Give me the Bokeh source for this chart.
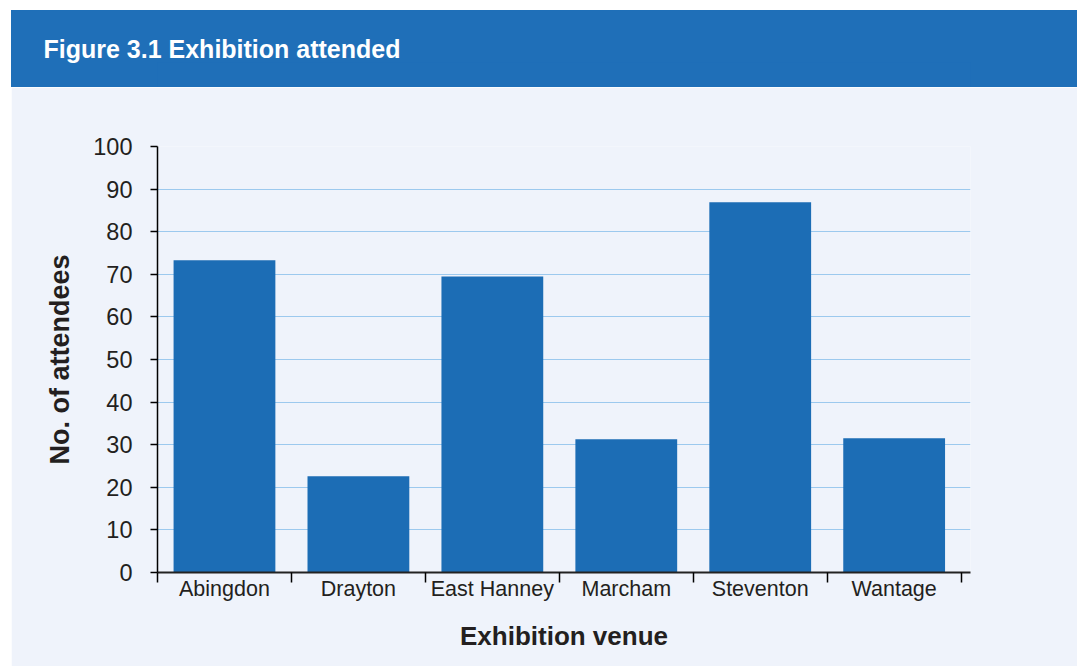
import numpy as np
from bokeh.plotting import figure
from bokeh.layouts import column
from bokeh.models import Range1d, FixedTicker, ColumnDataSource
from bokeh.embed import file_html
from bokeh.resources import INLINE

# Attendance per exhibition venue
venues = ["Abingdon", "Drayton", "East Hanney", "Marcham", "Steventon", "Wantage"]
attendees = [73.3, 22.6, 69.5, 31.3, 86.9, 31.5]
y_ticks = list(range(0, 101, 10))

title_text = "Figure 3.1 Exhibition attended"
x_title = "Exhibition venue"
y_title = "No. of attendees"

HEADER_BLUE = "#1f6fb8"
PANEL_BG = "#eff3fb"
BAR_BLUE = "#1c6db5"
GRID_BLUE = "#9cc9ee"
INK = "#231f20"
FONT = "Liberation Sans"

W = 1066
LEFT = 146      # room for the y axis
RIGHT = 107
HEADER_H = 77

# Header band carrying the figure caption as its title
header = figure(width=W, height=HEADER_H, x_range=Range1d(0, 1), y_range=Range1d(0, 1),
                title=title_text, title_location="above",
                toolbar_location=None, output_backend="svg", min_border=0,
                min_border_left=LEFT, min_border_right=RIGHT, min_border_top=52,
                background_fill_color=HEADER_BLUE, border_fill_color=HEADER_BLUE,
                outline_line_color=None, margin=0,
                styles={"background-color": HEADER_BLUE})
header.axis.visible = False
header.grid.visible = False
header.title.align = "left"
header.title.offset = 32 - LEFT
header.title.standoff = 0
header.title.text_color = "white"
header.title.text_font = FONT
header.title.text_font_size = "25px"
header.title.text_font_style = "bold"

# Bar chart panel
centers = np.arange(len(venues)) + 0.5
src = ColumnDataSource(dict(x=centers, top=attendees, venue=venues))

p = figure(width=W, height=579, x_range=Range1d(0, 6.07), y_range=Range1d(0, 100),
           toolbar_location=None, output_backend="svg",
           background_fill_color=PANEL_BG, border_fill_color=PANEL_BG,
           outline_line_color=None, margin=0,
           min_border_left=LEFT, min_border_right=RIGHT, min_border_top=59, min_border_bottom=94)

p.vbar(x="x", top="top", width=0.76, bottom=0, source=src,
       fill_color=BAR_BLUE, line_color=None)

# y axis
p.yaxis.ticker = FixedTicker(ticks=y_ticks)
p.yaxis.axis_label = y_title
p.yaxis.axis_label_text_font = FONT
p.yaxis.axis_label_text_font_size = "27px"
p.yaxis.axis_label_text_font_style = "bold"
p.yaxis.axis_label_text_color = INK
p.yaxis.axis_label_standoff = 15
p.yaxis.major_label_text_font = FONT
p.yaxis.major_label_text_font_size = "23.5px"
p.yaxis.major_label_text_color = INK
p.yaxis.major_label_standoff = 18
p.yaxis.major_tick_out = 7
p.yaxis.major_tick_in = 0
p.yaxis.minor_tick_out = 0
p.yaxis.minor_tick_in = 0
p.yaxis.axis_line_color = "black"
p.yaxis.axis_line_width = 1.5
p.yaxis.major_tick_line_color = "black"
p.yaxis.major_tick_line_width = 1.5

# x axis: labels at bar centres, ticks at the category boundaries
p.xaxis.ticker = FixedTicker(ticks=list(centers),
                             minor_ticks=list(range(len(venues) + 1)))
p.xaxis.major_label_overrides = {float(c): v for c, v in zip(centers, venues)}
p.xaxis.axis_label = x_title
p.xaxis.axis_label_text_font = FONT
p.xaxis.axis_label_text_font_size = "26px"
p.xaxis.axis_label_text_font_style = "bold"
p.xaxis.axis_label_text_color = INK
p.xaxis.axis_label_standoff = 17
p.xaxis.major_label_text_font = FONT
p.xaxis.major_label_text_font_size = "21.5px"
p.xaxis.major_label_text_color = INK
p.xaxis.major_label_standoff = -6
p.xaxis.major_tick_out = 0
p.xaxis.major_tick_in = 0
p.xaxis.minor_tick_out = 10
p.xaxis.minor_tick_in = 0
p.xaxis.minor_tick_line_color = "black"
p.xaxis.minor_tick_line_width = 1.5
p.xaxis.axis_line_color = "#222222"
p.xaxis.axis_line_width = 2

p.xgrid.visible = False
p.ygrid.ticker = FixedTicker(ticks=y_ticks)
p.ygrid.grid_line_color = GRID_BLUE
p.ygrid.grid_line_width = 1.2

page = column(header, p, margin=(10, 0, 0, 11), spacing=0)

open("out.html", "w").write(file_html(page, INLINE))
